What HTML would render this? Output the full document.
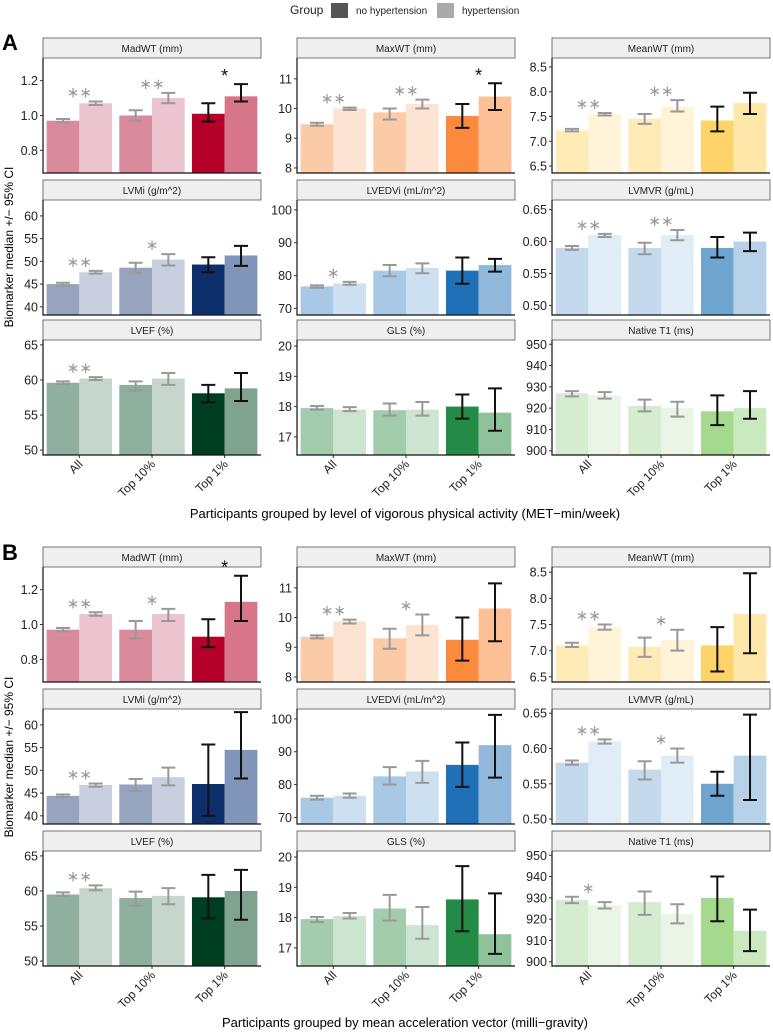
<!DOCTYPE html>
<html><head><meta charset="utf-8">
<style>
body{margin:0;background:#fff;font-family:"Liberation Sans",Arial,sans-serif;}
svg{display:block}
</style></head>
<body>
<svg id="chart" width="773" height="1032" viewBox="0 0 773 1032" xmlns="http://www.w3.org/2000/svg" font-family="Liberation Sans, Arial, sans-serif">
<g>
<text x="290" y="14" font-size="12" fill="#222">Group</text>
<rect x="331" y="3" width="17" height="15" fill="#555"/>
<text x="356" y="14" font-size="10" fill="#222">no hypertension</text>
<rect x="437" y="3" width="17" height="15" fill="#aaa"/>
<text x="462" y="14" font-size="10" fill="#222">hypertension</text>
</g>
<text x="2" y="50" font-size="22" font-weight="bold">A</text>
<text x="2" y="560" font-size="22" font-weight="bold">B</text>
<text transform="translate(13,247) rotate(-90)" text-anchor="middle" font-size="12">Biomarker median +/− 95% CI</text>
<text transform="translate(13,757) rotate(-90)" text-anchor="middle" font-size="12">Biomarker median +/− 95% CI</text>
<text x="405" y="518" text-anchor="middle" font-size="13">Participants grouped by level of vigorous physical activity (MET−min/week)</text>
<text x="405" y="1027" text-anchor="middle" font-size="13">Participants grouped by mean acceleration vector (milli−gravity)</text>
<g id="panels"></g>
</svg>
<script>
const categories = ["All","Top 10%","Top 1%"];
const titles = ["MadWT (mm)","MaxWT (mm)","MeanWT (mm)","LVMi (g/m^2)","LVEDVi (mL/m^2)","LVMVR (g/mL)","LVEF (%)","GLS (%)","Native T1 (ms)"];
const domainsA = [[0.67,1.33],[7.83,11.7],[6.36,8.68],[38.2,63.5],[68,103],[0.485,0.665],[49.3,65.7],[16.4,20.2],[898,952]];
const domainsB = [[0.67,1.33],[7.83,11.7],[6.4,8.6],[38.2,63.5],[68,103],[0.493,0.656],[49.3,65.7],[16.4,20.2],[898,952]];
const ticks = [[0.8,1.0,1.2],[8,9,10,11],[6.5,7.0,7.5,8.0,8.5],[40,45,50,55,60],[70,80,90,100],[0.50,0.55,0.60,0.65],[50,55,60,65],[17,18,19,20],[900,910,920,930,940,950]];
const tickLabels = [["0.8","1.0","1.2"],["8","9","10","11"],["6.5","7.0","7.5","8.0","8.5"],["40","45","50","55","60"],["70","80","90","100"],["0.50","0.55","0.60","0.65"],["50","55","60","65"],["17","18","19","20"],["900","910","920","930","940","950"]];
const colorsNo = [["#d98a9c","#b5002a"],["#fbcba8","#fb8a3c"],["#feebb8","#fed46a"],["#97a4c0","#0c2f6b"],["#a8c8e6","#2070b8"],["#c4daec","#6ea6d0"],["#8fb09f","#003e22"],["#a3ccac","#238b45"],["#d6ecd0","#a5d98e"]];
const colorsHyp = [["#ecc4cf","#d7768b"],["#fde3d1","#fdbf94"],["#fff3d8","#fee7a8"],["#c8d0e0","#8095b8"],["#cde0f1","#92b9dc"],["#e0ecf6","#b7d2e8"],["#c5d7cd","#7fa38f"],["#cde4d1","#8fc29b"],["#eaf5e6","#cbe9bf"]];

// Panel A values
const aNo = [[0.97,1.00,1.01],[9.47,9.87,9.75],[7.22,7.45,7.42],[45.0,48.6,49.3],[76.7,81.5,81.5],[0.59,0.59,0.59],[59.6,59.3,58.1],[17.95,17.88,18.0],[927,921,918.5]];
const aNoLo = [[0.96,0.97,0.965],[9.42,9.63,9.35],[7.2,7.35,7.2],[44.7,47.5,47.6],[76.3,79.8,77.5],[0.587,0.58,0.575],[59.4,58.5,56.8],[17.9,17.7,17.6],[925.5,918.5,912]];
const aNoHi = [[0.98,1.03,1.07],[9.52,10.0,10.15],[7.25,7.55,7.7],[45.3,49.7,50.9],[77.0,83.2,85.5],[0.593,0.598,0.607],[59.8,59.8,59.3],[18.02,18.1,18.4],[928,924,926]];
const aHyp = [[1.07,1.10,1.11],[10.0,10.15,10.4],[7.55,7.7,7.77],[47.6,50.4,51.3],[77.6,82.3,83.2],[0.61,0.61,0.60],[60.2,60.2,58.8],[17.9,17.9,17.8],[926,920,920]];
const aHypLo = [[1.06,1.07,1.08],[9.95,10.0,9.95],[7.52,7.6,7.55],[47.3,49.1,49.0],[77.2,80.7,81.2],[0.607,0.602,0.585],[60.0,59.3,57.0],[17.85,17.7,17.2],[924.5,916,915]];
const aHypHi = [[1.08,1.13,1.18],[10.03,10.3,10.85],[7.57,7.83,7.98],[47.9,51.6,53.4],[78.1,83.7,85.1],[0.612,0.618,0.614],[60.4,61.0,61.0],[17.98,18.15,18.6],[927.5,923,928]];
const aStars = [["**","**","*"],["**","**","*"],["**","**",""],["**","*",""],["*","",""],["**","**",""],["**","",""],["","",""],["","",""]];

// Panel B values
const bNo = [[0.97,0.97,0.93],[9.35,9.3,9.25],[7.1,7.07,7.1],[44.4,46.9,47.0],[76,82.5,86],[0.58,0.57,0.55],[59.5,59.0,59.1],[17.95,18.3,18.6],[929,928,930]];
const bNoLo = [[0.96,0.92,0.87],[9.3,8.95,8.55],[7.07,6.88,6.6],[44.1,45.5,40],[75.4,80,79.3],[0.577,0.556,0.533],[59.3,57.9,56.1],[17.85,17.9,17.55],[927.5,922,919]];
const bNoHi = [[0.98,1.02,1.03],[9.4,9.62,10.0],[7.15,7.25,7.45],[44.7,48.1,55.7],[76.6,85.3,92.8],[0.583,0.582,0.567],[59.8,59.9,62.3],[18.02,18.75,19.7],[930.5,933,940]];
const bHyp = [[1.06,1.06,1.13],[9.87,9.75,10.3],[7.45,7.2,7.7],[46.8,48.5,54.5],[76.6,84,92],[0.61,0.59,0.59],[60.4,59.3,60.0],[18.05,17.75,17.45],[926.5,922.5,914.5]];
const bHypLo = [[1.05,1.02,1.02],[9.8,9.4,9.2],[7.4,7.0,6.95],[46.4,46.7,48.2],[76,80.5,82.1],[0.607,0.58,0.527],[60.1,58.1,55.9],[17.97,17.3,16.8],[925,918,905]];
const bHypHi = [[1.07,1.09,1.28],[9.93,10.1,11.15],[7.5,7.4,8.48],[47.1,50.6,62.8],[77.3,87.2,101.2],[0.613,0.60,0.648],[60.8,60.4,63.0],[18.15,18.35,18.8],[928,927,924.5]];
const bStars = [["**","*","*"],["**","*",""],["**","*",""],["**","",""],["","",""],["**","*",""],["**","",""],["","",""],["*","",""]];

const NS = "http://www.w3.org/2000/svg";
const root = document.getElementById("panels");
const colX = [43, 297, 552];
const PW = 218, PH = 115, SH = 20;
const rowTopsA = [38, 180, 320];
const rowTopsB = [547, 689, 831];

function mk(tag, attrs, parent){
  const e = document.createElementNS(NS, tag);
  for (const k in attrs) e.setAttribute(k, attrs[k]);
  parent.appendChild(e);
  return e;
}

function drawSet(tag, rowTops, domains, no, noLo, noHi, hyp, hypLo, hypHi, stars){
  for (let p = 0; p < 9; p++){
    const col = p % 3, row = Math.floor(p / 3);
    const x0 = colX[col], st = rowTops[row], y0 = st + SH, y1 = y0 + PH;
    const g = mk("g", {}, root);
    
    
    const [d0, d1] = domains[p];
    const ys = v => y1 - (v - d0) / (d1 - d0) * PH;
    const strip = mk("rect", {x:x0, y:st, width:PW, height:SH, fill:"#efefef", stroke:"#555", "stroke-width":0.8}, g);
    
    
    const stt = mk("text", {x:x0+PW/2, y:st+14, "text-anchor":"middle", "font-size":"10", fill:"#222"}, g);
    stt.textContent = titles[p];
    
    
    const band = PW / 3;
    for (let c = 0; c < 3; c++){
      const cx = x0 + band * c + band / 2;
      const bw = band * 0.45;
      const series = [
        {v:no[p][c], lo:noLo[p][c], hi:noHi[p][c], fill:colorsNo[p][c===2?1:0], bx:cx - bw, nm:'bar-no-hypertension'},
        {v:hyp[p][c], lo:hypLo[p][c], hi:hypHi[p][c], fill:colorsHyp[p][c===2?1:0], bx:cx, nm:'bar-hypertension'}
      ];
      let top = Infinity;
      series.forEach(s => {
        const yb = Math.min(ys(s.v), y1);
        const r = mk("rect", {x:s.bx, y:yb, width:bw, height:Math.max(0, y1 - yb), fill:s.fill}, g);
        
        
        const ec = c === 2 ? "#111" : "#999";
        const ex = s.bx + bw / 2, yl = Math.min(ys(s.lo), y1), yh = ys(s.hi);
        top = Math.min(top, yh);
        const eb = mk("path", {d:`M${ex-7},${yh}H${ex+7}M${ex},${yh}V${yl}M${ex-7},${yl}H${ex+7}`, stroke:ec, "stroke-width":2, fill:"none"}, g);
        
        
      });
      if (stars[p][c]){
        const s = mk("text", {x:cx, y:top - 4 + (c===2?2:0), "text-anchor":"middle", "font-size": c===2?"18":"15", fill: c===2?"#111":"#999"}, g);
        s.textContent = stars[p][c] === "**" ? "∗∗" : (c===2 ? "*" : "∗");
        
        
      }
      if (row === 2){
        mk("line", {x1:cx, x2:cx, y1:y1, y2:y1+3, stroke:"#333"}, g);
        const tl = mk("text", {transform:`translate(${cx+4},${y1+10}) rotate(-45)`, "text-anchor":"end", "font-size":"12", fill:"#222"}, g);
        tl.textContent = categories[c];
        
        
      }
    }
    const ax = mk("path", {d:`M${x0},${y0}V${y1}H${x0+PW}`, stroke:"#111", "stroke-width":1.2, fill:"none"}, g);
    
    
    ticks[p].forEach((t, i) => {
      const y = ys(t);
      if (y < y0 - 0.5 || y > y1 + 0.5) return;
      mk("line", {x1:x0-3, x2:x0, y1:y, y2:y, stroke:"#333"}, g);
      const tt = mk("text", {x:x0-5, y:y+4.5, "text-anchor":"end", "font-size":"12.5", fill:"#222"}, g);
      tt.textContent = tickLabels[p][i];
      
      
    });
  }
}
drawSet("a", rowTopsA, domainsA, aNo, aNoLo, aNoHi, aHyp, aHypLo, aHypHi, aStars);
drawSet("b", rowTopsB, domainsB, bNo, bNoLo, bNoHi, bHyp, bHypLo, bHypHi, bStars);
</script>
</body></html>
